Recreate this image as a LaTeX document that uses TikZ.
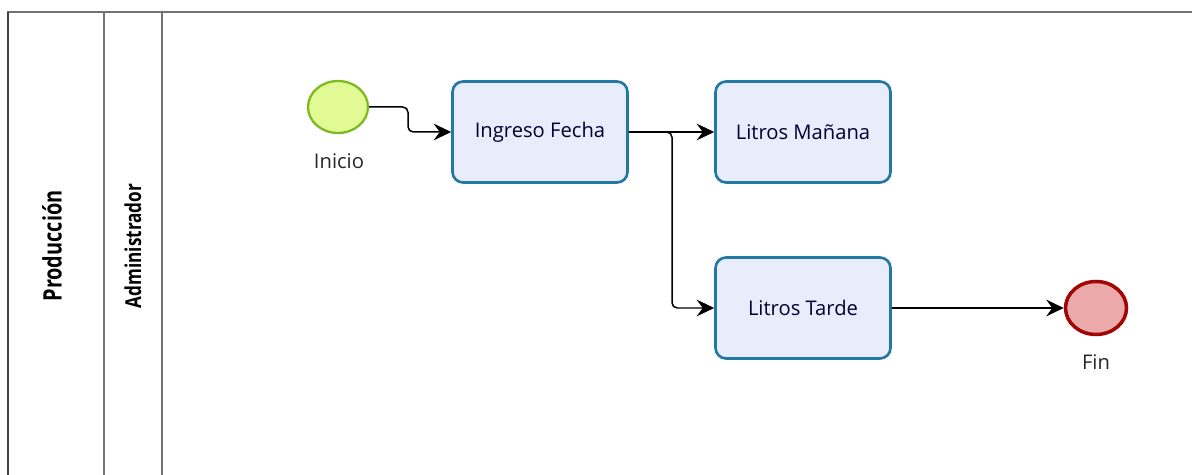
\documentclass[tikz,border=0pt]{standalone}
\usepackage{fontspec}
\setmainfont{Open Sans}
\newfontfamily\lanefont[FakeStretch=0.78]{Open Sans}
\usetikzlibrary{arrows.meta,shapes.geometric}

\definecolor{taskfill}{HTML}{E8ECFB}
\definecolor{taskline}{HTML}{2377A4}
\definecolor{startfill}{HTML}{E1FA93}
\definecolor{startline}{HTML}{7CBA22}
\definecolor{endfill}{HTML}{ECA9A9}
\definecolor{endline}{HTML}{A10606}

\tikzset{
	task/.style={draw=taskline, fill=taskfill, line width=1.5pt, rounded corners=6pt,
		minimum width=3.5cm, minimum height=2.02cm, font=\fontsize{11.5}{13}\selectfont, text=black!80!blue},
	startev/.style={ellipse, draw=startline, fill=startfill, line width=1.3pt,
		minimum width=1.2cm, minimum height=1.04cm, inner sep=0pt},
	endev/.style={ellipse, draw=endline, fill=endfill, line width=2pt,
		minimum width=1.22cm, minimum height=1.06cm, inner sep=0pt},
	evlabel/.style={font=\fontsize{11.5}{13}\selectfont, text=black!85},
	flow/.style={line width=0.85pt, -{Stealth[length=10pt, width=9.5pt, inset=3.5pt]}, rounded corners=3pt},
	lane/.style={draw=black!55, line width=0.9pt}
}

\begin{document}
\begin{tikzpicture}[x=0.02cm, y=-0.02cm]
	\useasboundingbox (0,0) rectangle (1192,475);
	% pool and lanes
	\draw [lane] (1192,12) -- (8,12) -- (8,475);
	\draw [lane, draw=black!75] (8,12) -- (8,475);
	\draw [lane] (104,12) -- (104,475);
	\draw [lane] (162,12) -- (162,475);
	\node (pool) [rotate=90, font=\lanefont\bfseries\fontsize{14.5}{16}\selectfont] at (52,246) {Producción};
	\node (admin) [rotate=90, font=\lanefont\bfseries\fontsize{12.5}{14}\selectfont] at (133,246) {Administrador};

	% events and tasks
	\node (inicio) [startev] at (338,107) {};
	\node (inicioL) [evlabel] at (339,161) {Inicio};
	\node (fecha) [task] at (540,132) {Ingreso Fecha};
	\node (manana) [task] at (803,132) {Litros Mañana};
	\node (tarde) [task] at (803,308) {Litros Tarde};
	\node (fin) [endev] at (1096,308) {};
	\node (finL) [evlabel] at (1096,362) {Fin};

	% flows
	\draw [flow] (inicio.east) -| (408,120) |- (fecha.west);
	\draw [flow] (fecha.east) -- (manana.west);
	\draw [flow] (fecha.east) -| (672,200) |- (tarde.west);
	\draw [flow] (tarde.east) -- (fin.west);
\end{tikzpicture}
\end{document}
